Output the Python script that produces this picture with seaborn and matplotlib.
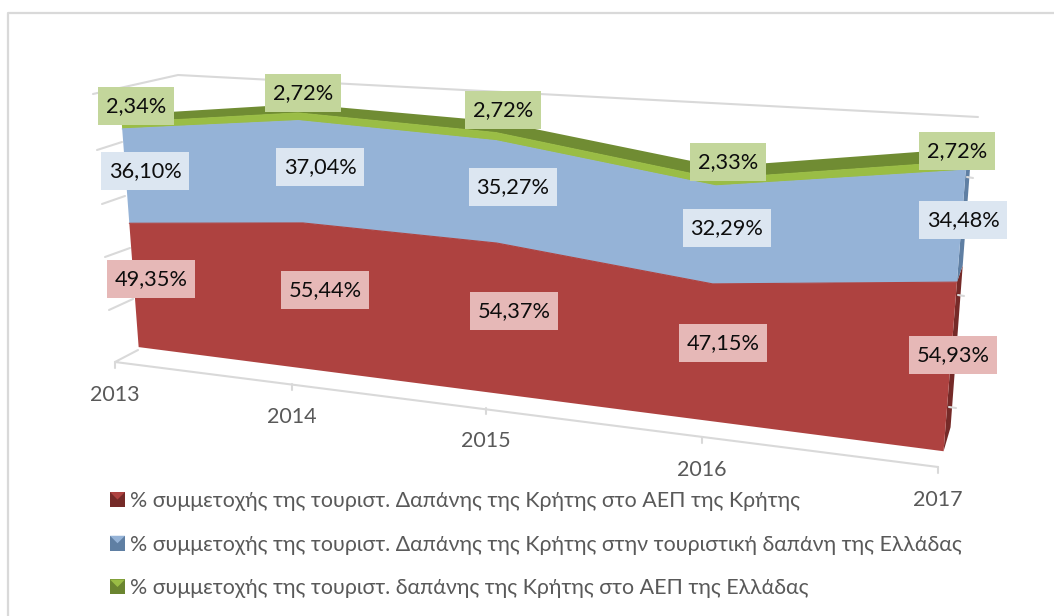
import numpy as np
import pandas as pd
import matplotlib
matplotlib.use("Agg")
import matplotlib.pyplot as plt
from matplotlib.legend_handler import HandlerBase
from matplotlib.patches import Patch, Polygon, Rectangle
import seaborn as sns

# Data
years = ["2013", "2014", "2015", "2016", "2017"]
series_names = [
    "% συμμετοχής της τουριστ. Δαπάνης της Κρήτης στο ΑΕΠ της Κρήτης",
    "% συμμετοχής της τουριστ. Δαπάνης της Κρήτης στην τουριστική δαπάνη της Ελλάδας",
    "% συμμετοχής της τουριστ. δαπάνης της Κρήτης στο ΑΕΠ της Ελλάδας",
]
red_values = [49.35, 55.44, 54.37, 47.15, 54.93]
blue_values = [36.10, 37.04, 35.27, 32.29, 34.48]
green_values = [2.34, 2.72, 2.72, 2.33, 2.72]

# Colours
front_colors = ["#AE4240", "#95B3D7", "#9ABD45"]
side_colors = ["#752A28", "#5F7FA3", "#6B8530"]
label_colors = ["#E6B8B7", "#DCE6F1", "#C3D69B"]
top_color = "#708C33"
grid_color = "#D9D9D9"

# Camera: year index + stacked value -> pixel, fitted on points
cal_i = [0, 4, 0, 1, 2, 3, 4, 0, 1, 2, 3, 4]
cal_v = [0, 0, 49.35, 55.44, 54.37, 47.15, 54.93, 85.45, 92.48, 89.64, 79.44, 89.41]
cal_x = [138, 943, 129, 307, 490, 717, 957, 123, 300, 490, 720, 965]
cal_y = [349, 449, 223, 223, 243, 284, 282, 127, 121, 140, 187, 172]

rows = []
rhs = []
for i, v, x, y in zip(cal_i, cal_v, cal_x, cal_y):
    rows.append([i, v, 1, 0, 0, 0, -x * i, -x * v])
    rows.append([0, 0, 0, i, v, 1, -y * i, -y * v])
    rhs += [x, y]
h = np.linalg.lstsq(np.array(rows, float), np.array(rhs, float), rcond=None)[0]


def project(i, v):
    i = np.asarray(i, float)
    v = np.asarray(v, float)
    w = h[6] * i + h[7] * v + 1
    return (h[0] * i + h[1] * v + h[2]) / w, (h[3] * i + h[4] * v + h[5]) / w


def depth_offset(v):
    # how far the back of the area sits from its front, on the right side
    v = np.asarray(v, float)
    return 7 - 2 * v / 92, -24 + 12 * v / 92


idx = np.arange(len(years))
red_top = np.array(red_values)
blue_top = red_top + np.array(blue_values)
green_top = blue_top + np.array(green_values)
levels = [np.zeros(len(years)), red_top, blue_top, green_top]

fig = plt.figure(figsize=(10.54, 6.16), dpi=100)
sns.set_theme(style="white")
plt.rcParams["font.family"] = ["Lato", "Noto Sans", "DejaVu Sans"]
ax = fig.add_axes([0, 0, 1, 1])
ax.set_xlim(0, 1054)
ax.set_ylim(616, 0)
ax.axis("off")

# Chart frame
ax.plot([8, 8, 1054], [616, 13, 13], color=grid_color, lw=1.6)

# Walls and floor
wall_segments = [
    ([93, 178, 978], [94, 75, 117]),
    ([97, 122], [150, 142]),
    ([102, 125], [204, 196]),
    ([105, 130], [257, 248]),
    ([109, 133], [310, 299]),
    ([138, 115, 938], [350, 362, 467]),
    ([967, 973], [177, 178]),
    ([958, 964], [295, 296]),
    ([949, 956], [407, 408]),
]
for xs, ys in wall_segments:
    ax.plot(xs, ys, color=grid_color, lw=1.5, solid_capstyle="round")
tick_x = [115, 292, 486, 702, 938]
tick_y = [362, 384, 408, 437, 467]
for tx, ty in zip(tick_x, tick_y):
    ax.plot([tx, tx], [ty, ty + 6], color=grid_color, lw=1.5)

# Top surface of the stack
top_depth = np.array([8, 9, 11, 12, 13])
gx, gy = project(idx, green_top)
ax.fill(np.r_[gx, gx[::-1] + 3], np.r_[gy, gy[::-1] - top_depth[::-1]], color=top_color, lw=0)

# Right side of the stack
for k in range(3):
    bx, by = project(4, levels[k][4])
    tx, ty = project(4, levels[k + 1][4])
    bdx, bdy = depth_offset(levels[k][4])
    tdx, tdy = depth_offset(levels[k + 1][4])
    ax.fill([bx, tx, tx + tdx, bx + bdx], [by, ty, ty + tdy, by + bdy], color=side_colors[k], lw=0)

# Front faces
frames = []
for k in range(3):
    lx, ly = project(idx, levels[k])
    ux, uy = project(idx, levels[k + 1])
    ax.fill(np.r_[ux, lx[::-1]], np.r_[uy, ly[::-1]], color=front_colors[k], lw=0)
    frames.append(pd.DataFrame({"x": ux, "y": uy, "series": series_names[k]}))
edges = pd.concat(frames)
sns.lineplot(data=edges, x="x", y="y", hue="series", palette=front_colors, sort=False,
             estimator=None, legend=False, lw=0.8, ax=ax)
ax.set_xlabel("")
ax.set_ylabel("")

# Data labels, placed by hand like in the original
label_pos_red = [(151, 279), (325, 290), (514, 311), (723, 343), (953, 355)]
label_pos_blue = [(145, 171), (320, 167), (513, 187), (727, 228), (963, 220)]
label_pos_green = [(136, 106), (303, 93), (503, 110), (728, 162), (957, 151)]
for vals, pos, col in zip([red_values, blue_values, green_values],
                          [label_pos_red, label_pos_blue, label_pos_green], label_colors):
    for val, (cx, cy) in zip(vals, pos):
        txt = f"{val:.2f}%".replace(".", ",")
        w = 88 if len(txt) == 6 else 76
        ax.add_patch(Rectangle((cx - w / 2, cy - 19), w, 38, color=col, lw=0, zorder=5))
        ax.text(cx, cy, txt, ha="center", va="center", fontsize=15.7, color="#0D0D0D", zorder=6)

# Year labels
for year, tx, ty in zip(years, tick_x, tick_y):
    ax.text(tx, ty + 33, year, ha="center", va="center", fontsize=15.5, color="#595959")


# Legend keys with the bevelled look
class BevelHandler(HandlerBase):
    def create_artists(self, legend, orig, x0, y0, width, height, fontsize, trans):
        s = 15.0 * 0.72
        left = x0 + width - s
        low = y0 + height / 2 - s / 2
        outer = Rectangle((left, low), s, s, facecolor=orig.get_edgecolor(), lw=0, transform=trans)
        inner = Polygon([(left, low + s), (left + s, low + s), (left + s / 2, low + s / 2)],
                        facecolor=orig.get_facecolor(), lw=0, transform=trans)
        return [outer, inner]


handles = [Patch(facecolor=f, edgecolor=s) for f, s in zip(front_colors, side_colors)]
ax.legend(handles, series_names, loc="upper left", bbox_to_anchor=(103.6, 491),
          bbox_transform=ax.transData, frameon=False, fontsize=15.4, labelcolor="#595959",
          handler_map={Patch: BevelHandler()}, labelspacing=1.11, handlelength=1.0,
          handletextpad=0.25, borderpad=0, borderaxespad=0)

plt.savefig("out.png", dpi=100)
